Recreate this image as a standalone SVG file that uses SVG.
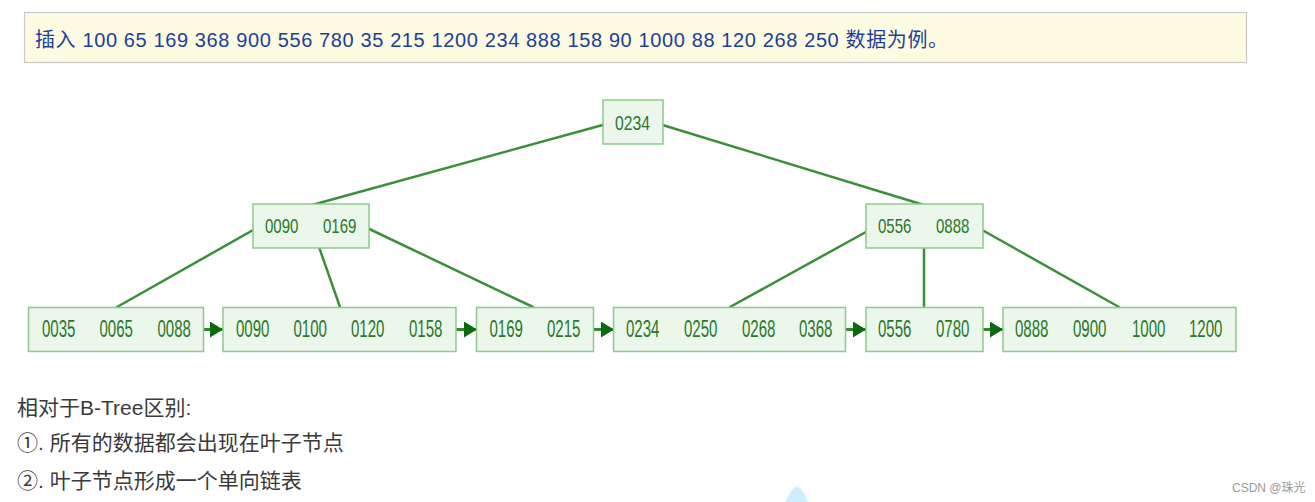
<svg xmlns="http://www.w3.org/2000/svg" width="1315" height="502" viewBox="0 0 1315 502">
<defs>
<style>
.box{fill:#eaf7ea;stroke:#8ccb8c;stroke-width:1.5}
.k{font-family:"Liberation Sans",sans-serif;fill:#2a772a}
.lk{font-size:23px}
.uk{font-size:21px}
.edge{stroke:#3a8f3a;stroke-width:2.5;fill:none;stroke-linecap:round}
.link{stroke:#2e8b2e;stroke-width:3;fill:none;marker-end:url(#ah)}
.note{font-family:"Liberation Sans","Noto Sans CJK SC",sans-serif;font-size:21px;fill:#3a3a3a}
</style>
<marker id="ah" viewBox="0 0 13 16" refX="13" refY="8" markerWidth="13" markerHeight="16" orient="auto" markerUnits="userSpaceOnUse">
<path d="M0,0 L13,8 L0,16 Z" fill="#0c6a0c"/>
</marker>
</defs>
<rect width="1315" height="502" fill="#ffffff"/>
<g id="header">
<rect x="24.5" y="12.5" width="1222" height="50" fill="#fdfbe2" stroke="#c8c8c8" stroke-width="1.2"/>
<text x="35" y="47" font-family="'Liberation Sans','Noto Sans CJK SC',sans-serif" font-size="20" fill="#1d3f9a" textLength="913" lengthAdjust="spacing">插入 100 65 169 368 900 556 780 35 215 1200 234 888 158 90 1000 88 120 268 250 数据为例。</text>
</g>
<g id="connectors">
<line class="edge" x1="610" y1="123" x2="312" y2="205"/>
<line class="edge" x1="656" y1="123" x2="924" y2="205"/>
<line class="edge" x1="262" y1="225" x2="117" y2="307"/>
<line class="edge" x1="312" y1="227" x2="340" y2="307"/>
<line class="edge" x1="363" y1="226" x2="533" y2="307"/>
<line class="edge" x1="875" y1="227" x2="730" y2="307"/>
<line class="edge" x1="924" y1="231" x2="924" y2="307"/>
<line class="edge" x1="975" y1="226" x2="1119" y2="307"/>
<line class="link" x1="197" y1="329.5" x2="223" y2="329.5"/>
<line class="link" x1="448" y1="329.5" x2="477" y2="329.5"/>
<line class="link" x1="586" y1="329.5" x2="614" y2="329.5"/>
<line class="link" x1="838" y1="329.5" x2="866" y2="329.5"/>
<line class="link" x1="976" y1="329.5" x2="1003" y2="329.5"/>
</g>
<g id="root">
<rect class="box" x="603" y="100" width="60" height="44"/>
<text class="k uk" x="615" y="129.5" textLength="35" lengthAdjust="spacingAndGlyphs">0234</text>
</g>
<g id="inner-left">
<rect class="box" x="253" y="204" width="116" height="44"/>
<text class="k uk" x="265" y="233" textLength="33.5" lengthAdjust="spacingAndGlyphs">0090</text>
<text class="k uk" x="323" y="233" textLength="33.5" lengthAdjust="spacingAndGlyphs">0169</text>
</g>
<g id="inner-right">
<rect class="box" x="866" y="204" width="117" height="44"/>
<text class="k uk" x="878" y="233" textLength="33.5" lengthAdjust="spacingAndGlyphs">0556</text>
<text class="k uk" x="936" y="233" textLength="33.5" lengthAdjust="spacingAndGlyphs">0888</text>
</g>
<g id="leaf1">
<rect class="box" x="28.5" y="307.5" width="175" height="44"/>
<text class="k lk" x="42" y="337" textLength="33.5" lengthAdjust="spacingAndGlyphs">0035</text>
<text class="k lk" x="99.5" y="337" textLength="33.5" lengthAdjust="spacingAndGlyphs">0065</text>
<text class="k lk" x="157.5" y="337" textLength="33.5" lengthAdjust="spacingAndGlyphs">0088</text>
</g>
<g id="leaf2">
<rect class="box" x="223" y="307.5" width="233" height="44"/>
<text class="k lk" x="236" y="337" textLength="33.5" lengthAdjust="spacingAndGlyphs">0090</text>
<text class="k lk" x="293.5" y="337" textLength="33.5" lengthAdjust="spacingAndGlyphs">0100</text>
<text class="k lk" x="351" y="337" textLength="33.5" lengthAdjust="spacingAndGlyphs">0120</text>
<text class="k lk" x="409" y="337" textLength="33.5" lengthAdjust="spacingAndGlyphs">0158</text>
</g>
<g id="leaf3">
<rect class="box" x="476.5" y="307.5" width="117" height="44"/>
<text class="k lk" x="489.5" y="337" textLength="33.5" lengthAdjust="spacingAndGlyphs">0169</text>
<text class="k lk" x="547" y="337" textLength="33.5" lengthAdjust="spacingAndGlyphs">0215</text>
</g>
<g id="leaf4">
<rect class="box" x="613.5" y="307.5" width="232" height="44"/>
<text class="k lk" x="626" y="337" textLength="33.5" lengthAdjust="spacingAndGlyphs">0234</text>
<text class="k lk" x="684" y="337" textLength="33.5" lengthAdjust="spacingAndGlyphs">0250</text>
<text class="k lk" x="742" y="337" textLength="33.5" lengthAdjust="spacingAndGlyphs">0268</text>
<text class="k lk" x="799" y="337" textLength="33.5" lengthAdjust="spacingAndGlyphs">0368</text>
</g>
<g id="leaf5">
<rect class="box" x="866" y="307.5" width="117" height="44"/>
<text class="k lk" x="878" y="337" textLength="33.5" lengthAdjust="spacingAndGlyphs">0556</text>
<text class="k lk" x="936" y="337" textLength="33.5" lengthAdjust="spacingAndGlyphs">0780</text>
</g>
<g id="leaf6">
<rect class="box" x="1003" y="307.5" width="233" height="44"/>
<text class="k lk" x="1015" y="337" textLength="33.5" lengthAdjust="spacingAndGlyphs">0888</text>
<text class="k lk" x="1073" y="337" textLength="33.5" lengthAdjust="spacingAndGlyphs">0900</text>
<text class="k lk" x="1132" y="337" textLength="33.5" lengthAdjust="spacingAndGlyphs">1000</text>
<text class="k lk" x="1189" y="337" textLength="33.5" lengthAdjust="spacingAndGlyphs">1200</text>
</g>
<g id="notes">
<text class="note" x="17" y="415">相对于B-Tree区别:</text>
<text class="note" x="17" y="450">①. 所有的数据都会出现在叶子节点</text>
<text class="note" x="17" y="488">②. 叶子节点形成一个单向链表</text>
</g>
<path d="M785,502 C790,492 793,487 797,487 C801,487 804,492 808,502 Z" fill="#cdeefa"/>
<text x="1232" y="492" font-family="'Liberation Sans','Noto Sans CJK SC',sans-serif" font-size="12" fill="#999999">CSDN @珠光</text>
</svg>
